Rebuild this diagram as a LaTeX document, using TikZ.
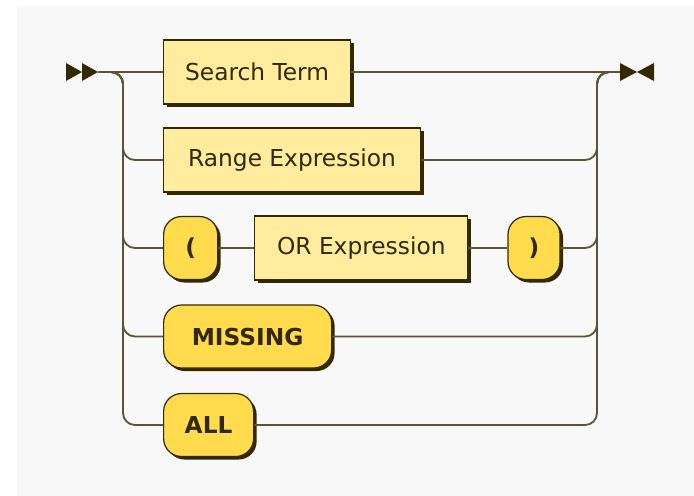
\documentclass[tikz,border=0pt]{standalone}
\usepackage{fontspec}
\newfontfamily\rrfont{DejaVu Sans}
\usetikzlibrary{positioning}
\definecolor{rrline}{HTML}{332900}
\definecolor{rrnterm}{HTML}{FFEC9E}
\definecolor{rrterm}{HTML}{FFDB4D}
\definecolor{rrbg}{HTML}{F8F8F8}
\tikzset{
    shadowed/.style = {preaction={fill=rrline, transform canvas={xshift=1.5pt,yshift=-1.5pt}}},
    nterm/.style = {rectangle, draw=rrline, line width=0.6pt, fill=rrnterm, shadowed, minimum height=32pt, inner sep=0pt, text=rrline, font=\rrfont\fontsize{11.65pt}{14pt}\selectfont},
    termb/.style = {rectangle, rounded corners=9pt, draw=rrline, line width=0.6pt, fill=rrterm, shadowed, minimum height=31.5pt, inner sep=0pt, text=rrline, font=\rrfont\bfseries\fontsize{11.65pt}{14pt}\selectfont},
    rail/.style = {draw=rrline!80, line width=0.9pt, rounded corners=6pt},
    endmark/.style = {fill=rrline}
}

\begin{document}
\begin{tikzpicture}[x=0.5pt, y=-0.5pt]
  \useasboundingbox (0,0) rectangle (694,495);
  \fill[rrbg] (17,6) rectangle (700,500);

  % choices
  \node[nterm, minimum width=93.5pt, anchor=west] (st) at (163,72) {Search Term};
  \node[nterm, minimum width=128.5pt, anchor=west] (re) at (163,160) {Range Expression};
  \node[termb, minimum width=27pt, anchor=west] (lp) at (163,248) {(};
  \node[nterm, minimum width=106.5pt, right=18pt of lp] (ore) {OR Expression};
  \node[termb, minimum width=26pt, right=19.5pt of ore] (rp) {)};
  \node[termb, minimum width=84pt, anchor=west] (mis) at (163,336.5) {MISSING};
  \node[termb, minimum width=45pt, anchor=west] (all) at (163,425) {ALL};

  \coordinate (in) at (98,72);
  \coordinate (out) at (620,72);
  \coordinate (lrail) at (123,72);
  \coordinate (rrail) at (597,72);

  % rails
  \draw[rail] (in) -- (st) -- (out);
  \foreach \n in {re, lp, mis, all}
    \draw[rail] (in) -| (lrail |- \n.west) -- (\n.west);
  \foreach \n in {re, rp, mis, all}
    \draw[rail] (\n.east) -| (rrail) -- (out);
  \draw[rail] (lp) -- (ore) -- (rp);

  % start and end marks
  \fill[endmark] (66,63) -- (82,72) -- (66,81) -- cycle;
  \fill[endmark] (82,63) -- (98,72) -- (82,81) -- cycle;
  \fill[endmark] (620,63) -- (637,72) -- (620,81) -- cycle;
  \fill[endmark] (654,63) -- (637,72) -- (654,81) -- cycle;
\end{tikzpicture}
\end{document}
